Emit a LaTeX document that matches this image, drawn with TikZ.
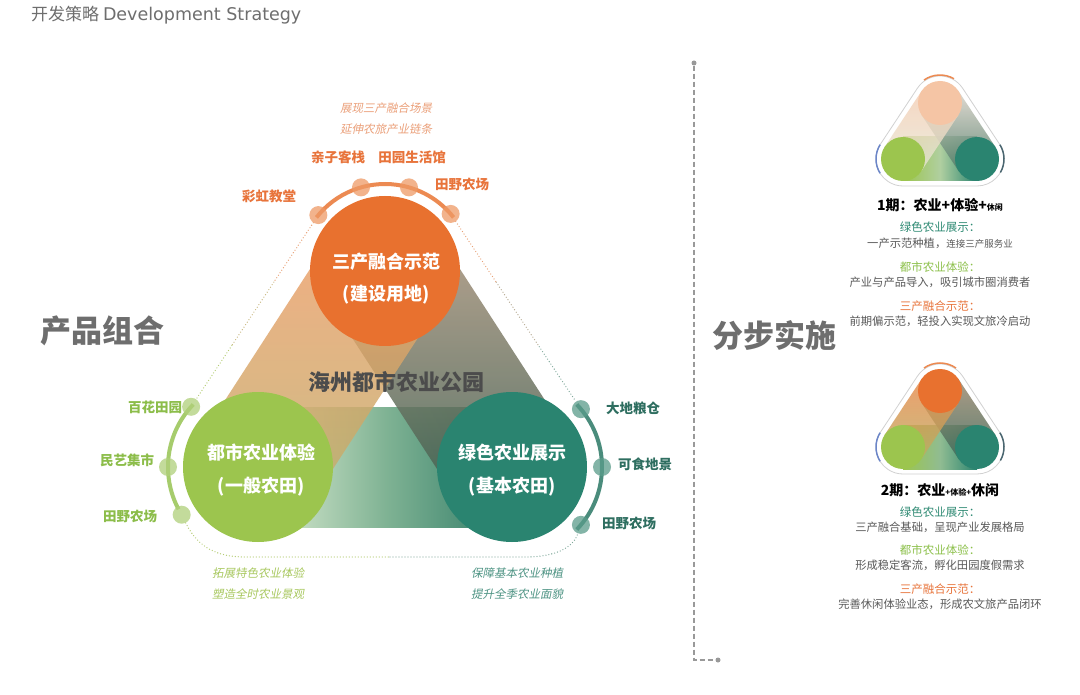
\documentclass[tikz,border=0pt]{standalone}
\usepackage{fontspec}
\setmainfont{Noto Sans CJK SC}
\newfontfamily\slfont{Noto Sans CJK SC}[FakeSlant=0.2]
\newfontfamily\latf{DejaVu Sans}
\usetikzlibrary{calc}
\definecolor{orC}{HTML}{E8712F}
\definecolor{grC}{HTML}{9CC54E}
\definecolor{tlC}{HTML}{2A8470}
\definecolor{lblO}{HTML}{E8743B}
\definecolor{lblG}{HTML}{8CBD4A}
\definecolor{lblT}{HTML}{2E6E60}
\definecolor{itO}{HTML}{EBA07A}
\definecolor{itG}{HTML}{A8C85E}
\definecolor{itT}{HTML}{4E9484}
\definecolor{txtG}{HTML}{595959}
\definecolor{headG}{HTML}{6E6E6E}
\definecolor{arcO}{HTML}{EC8A52}
\definecolor{arcG}{HTML}{A6CC6C}
\definecolor{arcT}{HTML}{4A8C7C}
\definecolor{dotO}{HTML}{EE9A66}
\definecolor{dotG}{HTML}{B0D07A}
\definecolor{dotT}{HTML}{5A9C8A}
\definecolor{dlO}{HTML}{E8A074}
\definecolor{dlM}{HTML}{C8B880}
\definecolor{dlG}{HTML}{B4CC72}
\definecolor{dlT}{HTML}{7FA89A}
\definecolor{dlN}{HTML}{B4A890}
\definecolor{bbL}{HTML}{E0EED5}
\definecolor{bbM}{HTML}{80B394}
\definecolor{bbR}{HTML}{2E7A66}
\definecolor{lbT}{HTML}{EE9E68}
\definecolor{lbB}{HTML}{C2AE6A}
\definecolor{rbT}{HTML}{A8927A}
\definecolor{rbB}{HTML}{405E50}
\definecolor{pkO}{HTML}{F5C5A5}
\definecolor{mArcB}{HTML}{6C86C8}
\definecolor{mArcD}{HTML}{4A6670}
\definecolor{mTeal}{HTML}{2E8A73}
\definecolor{mGreen}{HTML}{8CC04A}
\definecolor{m1bM}{HTML}{B0CFA0}
\definecolor{m1lT}{HTML}{F5CDB3}
\definecolor{m1lB}{HTML}{E6E8D6}
\definecolor{m1rT}{HTML}{DCD4CA}
\definecolor{m1rB}{HTML}{4F7A66}
\definecolor{m2bM}{HTML}{90BC92}
\definecolor{m2lT}{HTML}{E98A4C}
\definecolor{m2lB}{HTML}{BDAE62}
\definecolor{m2rT}{HTML}{A08A70}
\definecolor{m2rB}{HTML}{3F6A5A}
\begin{document}
\begin{tikzpicture}[x=1pt,y=-1pt,
  lbl/.style={inner sep=0, font=\bfseries\fontsize{13.5}{16}\selectfont},
  slt/.style={inner sep=0, font=\slfont\fontsize{11.5}{14}\selectfont},
  ctext/.style={inner sep=0, text=white, font=\bfseries\fontsize{18}{21}\selectfont},
  head/.style={inner sep=0, text=headG, font=\bfseries\fontsize{31}{34}\selectfont},
  bigc/.style={circle, minimum size=150pt, inner sep=0, draw=none},
  dotc/.style={circle, minimum size=18pt, inner sep=0, draw=none, fill opacity=0.75},
  minic/.style={circle, minimum size=44pt, inner sep=0, draw=none},
  dl/.style={line width=1.3pt, dash pattern=on 0pt off 3pt, line cap=round},
  barc/.style={line width=4pt},
  miniout/.style={draw=black!18, line width=0.8pt},
  marc/.style={line width=1.5pt},
  desc/.style={inner sep=0, text=txtG, font=\fontsize{11.3}{13}\selectfont},
  dtit/.style={inner sep=0, font=\fontsize{11.5}{13}\selectfont}
]
\path[use as bounding box, fill=white] (0,0) rectangle (1080,695);

% title and headings
\node[anchor=west, inner sep=0, text=headG, font=\fontsize{17}{20}\selectfont] (title) at (31,15) {开发策略 {\latf\fontsize{17.5}{20}\selectfont Development Strategy}};
\node[head] (h1) at (103,331) {产品组合};
\node[head] (h2) at (774,336) {分步实施};

% main coordinates
\coordinate (T) at (385,271);
\coordinate (L) at (258,467);
\coordinate (R) at (512,467);

% bands (half width 64)
\shade[left color=bbL, right color=bbR, middle color=bbM] (258,407) rectangle (512,527);
\shade[top color=rbT, bottom color=rbB, fill opacity=0.85] (331.29,305.80) -- (438.71,236.20) -- (565.71,432.20) -- (458.29,501.80) -- cycle;
\shade[top color=lbT, bottom color=lbB, fill opacity=0.82] (331.29,236.20) -- (438.71,305.80) -- (311.71,501.80) -- (204.29,432.20) -- cycle;

\node[inner sep=0, text=black!70, font=\bfseries\fontsize{22}{25}\selectfont] (park) at (396,382) {海州都市农业公园};

% arcs
\draw[barc, arcO] ($(T)+(-142:87)$) arc[start angle=-142, end angle=-38, radius=87];
\draw[barc, arcG] ($(L)+(-136:90)$) arc[start angle=-136, end angle=-208, radius=90];
\draw[barc, arcT] ($(R)+(-44:90)$) arc[start angle=-44, end angle=44, radius=90];

% dots
\node[dotc, fill=dotO] (tO1) at ($(T)+(-140:87)$) {};
\node[dotc, fill=dotO] (tO2) at ($(T)+(-106:87)$) {};
\node[dotc, fill=dotO] (tO3) at ($(T)+(-74:87)$) {};
\node[dotc, fill=dotO] (tO4) at ($(T)+(-41:87)$) {};
\node[dotc, fill=dotG] (gD1) at ($(L)+(-138:90)$) {};
\node[dotc, fill=dotG] (gD2) at ($(L)+(180:90)$) {};
\node[dotc, fill=dotG] (gD3) at ($(L)+(148:90)$) {};
\node[dotc, fill=dotT] (tD1) at ($(R)+(-40:90)$) {};
\node[dotc, fill=dotT] (tD2) at ($(R)+(0:90)$) {};
\node[dotc, fill=dotT] (tD3) at ($(R)+(40:90)$) {};

% dotted outer lines
\draw[dl, dlO] (tO1) -- ($(tO1)!0.35!(gD1)$);
\draw[dl, dlM] ($(tO1)!0.35!(gD1)$) -- ($(tO1)!0.68!(gD1)$);
\draw[dl, dlG] ($(tO1)!0.68!(gD1)$) -- (gD1);
\draw[dl, dlO] (tO4) -- ($(tO4)!0.35!(tD1)$);
\draw[dl, dlN] ($(tO4)!0.35!(tD1)$) -- ($(tO4)!0.68!(tD1)$);
\draw[dl, dlT] ($(tO4)!0.68!(tD1)$) -- (tD1);
\coordinate (bl1) at (245,557);
\coordinate (bl2) at (390,557);
\coordinate (bl3) at (525,557);
\draw[dl, dlG] (gD3) .. controls (198,548) and (218,557) .. (bl1) -- (bl2);
\draw[dl, dlT] (bl2) -- (bl3) .. controls (555,557) and (573,548) .. (tD3);

% main circles
\node[bigc, fill=orC] (cT) at (T) {};
\node[bigc, fill=grC] (cL) at (L) {};
\node[bigc, fill=tlC] (cR) at (R) {};
\node[ctext] (cT1) at (386,262) {三产融合示范};
\node[ctext] (cT2) at (386,295) {(建设用地)};
\node[ctext] (cL1) at (261,453) {都市农业体验};
\node[ctext] (cL2) at (261,487) {(一般农田)};
\node[ctext] (cR1) at (512,453) {绿色农业展示};
\node[ctext] (cR2) at (512,487) {(基本农田)};

% labels
\node[slt, text=itO] (i1) at (386,108) {展现三产融合场景};
\node[slt, text=itO] (i2) at (386,129) {延伸农旅产业链条};
\node[lbl, text=lblO] (l1) at (269,196) {彩虹教堂};
\node[lbl, text=lblO] (l2) at (338,157) {亲子客栈};
\node[lbl, text=lblO] (l3) at (412,157) {田园生活馆};
\node[lbl, text=lblO] (l4) at (462,184) {田野农场};
\node[lbl, text=lblG] (l5) at (155,407) {百花田园};
\node[lbl, text=lblG] (l6) at (127,460) {民艺集市};
\node[lbl, text=lblG] (l7) at (130,516) {田野农场};
\node[lbl, text=lblT] (l8) at (633,408) {大地粮仓};
\node[lbl, text=lblT] (l9) at (645,464) {可食地景};
\node[lbl, text=lblT] (l10) at (629,523) {田野农场};
\node[slt, text=itG] (i3) at (258,573) {拓展特色农业体验};
\node[slt, text=itG] (i4) at (258,594) {塑造全时农业景观};
\node[slt, text=itT] (i5) at (517,573) {保障基本农业种植};
\node[slt, text=itT] (i6) at (517,594) {提升全季农业面貌};

% dashed divider
\node[circle, fill=black!40, minimum size=5pt, inner sep=0] (dv1) at (694,63) {};
\node[circle, fill=black!40, minimum size=5pt, inner sep=0] (dv2) at (718,660) {};
\coordinate (dvc) at (694,660);
\draw[black!40, line width=1.4pt, dash pattern=on 5pt off 3pt] (dv1) -- (dvc) -- (dv2);

% ---------- phase 1 mini ----------
\coordinate (mT1) at (940,103);
\coordinate (mL1) at (903,159);
\coordinate (mR1) at (977,159);
\draw[miniout] ($(mL1)+(213.4:27)$) arc[start angle=213.4,end angle=90,radius=27] -- ($(mR1)+(90:27)$) arc[start angle=90,end angle=-33.4,radius=27] -- ($(mT1)+(-33.4:27)$) arc[start angle=-33.4,end angle=-146.6,radius=27] -- cycle;
\shade[left color=grC, right color=tlC, middle color=m1bM] ($(mL1)+(0,-22)$) rectangle ($(mR1)+(0,22)$);
\shade[top color=m1rT, bottom color=m1rB, fill opacity=0.85] ($(mT1)!22pt!90:(mR1)$) -- ($(mT1)!22pt!-90:(mR1)$) -- ($(mR1)!22pt!90:(mT1)$) -- ($(mR1)!22pt!-90:(mT1)$) -- cycle;
\shade[top color=m1lT, bottom color=m1lB, fill opacity=0.8] ($(mT1)!22pt!90:(mL1)$) -- ($(mT1)!22pt!-90:(mL1)$) -- ($(mL1)!22pt!90:(mT1)$) -- ($(mL1)!22pt!-90:(mT1)$) -- cycle;
\node[minic, fill=pkO] (p1T) at (mT1) {};
\node[minic, fill=grC] (p1L) at (mL1) {};
\node[minic, fill=tlC] (p1R) at (mR1) {};
\draw[marc, arcO] ($(mT1)+(-125:28)$) arc[start angle=-125, end angle=-60, radius=28];
\draw[marc, mArcB] ($(mL1)+(148:27)$) arc[start angle=148, end angle=212, radius=27];
\draw[marc, mArcD] ($(mR1)+(-32:27)$) arc[start angle=-32, end angle=30, radius=27];

\node[inner sep=0] (p1h) at (940,205) {\bfseries\fontsize{14}{16}\selectfont 1期：农业+体验+{\fontsize{8}{10}\selectfont 休闲}};
\node[dtit, text=mTeal] (p1a) at (940,227) {绿色农业展示：};
\node[desc] (p1b) at (940,243) {一产示范种植，{\fontsize{9.5}{11}\selectfont 连接三产服务业}};
\node[dtit, text=mGreen] (p1c) at (940,267) {都市农业体验：};
\node[desc] (p1d) at (940,282) {产业与产品导入，吸引城市圈消费者};
\node[dtit, text=lblO] (p1e) at (940,306) {三产融合示范：};
\node[desc] (p1f) at (940,321) {前期偏示范，轻投入实现文旅冷启动};

% ---------- phase 2 mini ----------
\coordinate (mT2) at (940,391);
\coordinate (mL2) at (903,447);
\coordinate (mR2) at (977,447);
\draw[miniout] ($(mL2)+(213.4:27)$) arc[start angle=213.4,end angle=90,radius=27] -- ($(mR2)+(90:27)$) arc[start angle=90,end angle=-33.4,radius=27] -- ($(mT2)+(-33.4:27)$) arc[start angle=-33.4,end angle=-146.6,radius=27] -- cycle;
\shade[left color=grC, right color=tlC, middle color=m2bM] ($(mL2)+(0,-22)$) rectangle ($(mR2)+(0,22)$);
\shade[top color=m2rT, bottom color=m2rB, fill opacity=0.85] ($(mT2)!22pt!90:(mR2)$) -- ($(mT2)!22pt!-90:(mR2)$) -- ($(mR2)!22pt!90:(mT2)$) -- ($(mR2)!22pt!-90:(mT2)$) -- cycle;
\shade[top color=m2lT, bottom color=m2lB, fill opacity=0.82] ($(mT2)!22pt!90:(mL2)$) -- ($(mT2)!22pt!-90:(mL2)$) -- ($(mL2)!22pt!90:(mT2)$) -- ($(mL2)!22pt!-90:(mT2)$) -- cycle;
\node[minic, fill=orC] (p2T) at (mT2) {};
\node[minic, fill=grC] (p2L) at (mL2) {};
\node[minic, fill=tlC] (p2R) at (mR2) {};
\draw[marc, arcO] ($(mT2)+(-125:28)$) arc[start angle=-125, end angle=-55, radius=28];
\draw[marc, mArcB] ($(mL2)+(148:27)$) arc[start angle=148, end angle=212, radius=27];
\draw[marc, mArcD] ($(mR2)+(-32:27)$) arc[start angle=-32, end angle=30, radius=27];

\node[inner sep=0] (p2h) at (940,490) {\bfseries\fontsize{14}{16}\selectfont 2期：农业{\fontsize{8}{10}\selectfont +体验+}休闲};
\node[dtit, text=mTeal] (p2a) at (940,512) {绿色农业展示：};
\node[desc] (p2b) at (940,527) {三产融合基础，呈现产业发展格局};
\node[dtit, text=mGreen] (p2c) at (940,550) {都市农业体验：};
\node[desc] (p2d) at (940,565) {形成稳定客流，孵化田园度假需求};
\node[dtit, text=lblO] (p2e) at (940,589) {三产融合示范：};
\node[desc] (p2f) at (940,604) {完善休闲体验业态，形成农文旅产品闭环};
\end{tikzpicture}
\end{document}
